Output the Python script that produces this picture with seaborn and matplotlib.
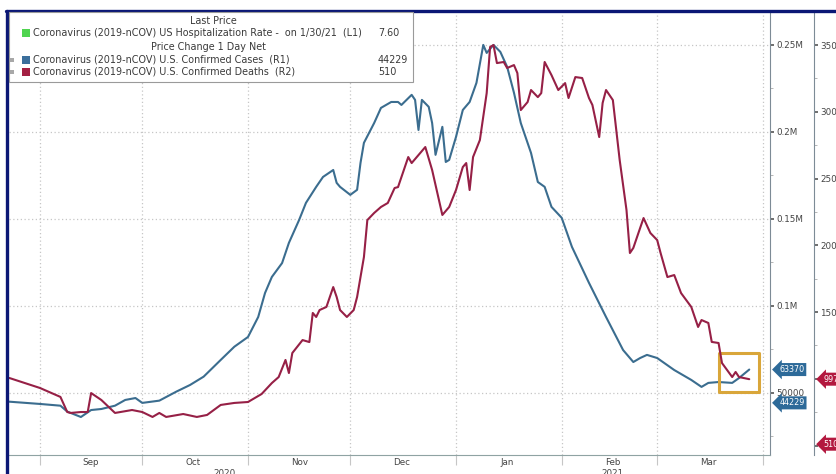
import matplotlib
matplotlib.use("Agg")
import matplotlib.pyplot as plt
import matplotlib.dates as mdates
import matplotlib.ticker as mticker
import matplotlib.transforms as mtransforms
from matplotlib.patches import Rectangle
from matplotlib.lines import Line2D
import pandas as pd
import seaborn as sns

sns.set_style("white")
plt.rcParams['font.family'] = ['DejaVu Sans']

# U.S. confirmed cases (R1)
case_dates = ["2020-08-23", "2020-09-01", "2020-09-07", "2020-09-09", "2020-09-13", "2020-09-16",
              "2020-09-19", "2020-09-23", "2020-09-26", "2020-09-29", "2020-10-01", "2020-10-06",
              "2020-10-11", "2020-10-15", "2020-10-19", "2020-10-24", "2020-10-28", "2020-11-01",
              "2020-11-04", "2020-11-06", "2020-11-08", "2020-11-11", "2020-11-13", "2020-11-16",
              "2020-11-18", "2020-11-21", "2020-11-23", "2020-11-26", "2020-11-27", "2020-11-28",
              "2020-12-01", "2020-12-03", "2020-12-04", "2020-12-05", "2020-12-08", "2020-12-10",
              "2020-12-13", "2020-12-15", "2020-12-16", "2020-12-19", "2020-12-20", "2020-12-21",
              "2020-12-22", "2020-12-24", "2020-12-25", "2020-12-26", "2020-12-28", "2020-12-29",
              "2020-12-30", "2021-01-01", "2021-01-03", "2021-01-05", "2021-01-07", "2021-01-09",
              "2021-01-10", "2021-01-12", "2021-01-14", "2021-01-16", "2021-01-18", "2021-01-20",
              "2021-01-23", "2021-01-25", "2021-01-27", "2021-01-29", "2021-02-01", "2021-02-04",
              "2021-02-09", "2021-02-14", "2021-02-19", "2021-02-22", "2021-02-24", "2021-02-26",
              "2021-03-01", "2021-03-06", "2021-03-11", "2021-03-14", "2021-03-16", "2021-03-19",
              "2021-03-23", "2021-03-25", "2021-03-28"]
cases = [44900, 43600, 42600, 39200, 36100, 40100,
         40700, 42600, 45900, 47000, 44200, 45500,
         50700, 54500, 59300, 68900, 76500, 82100,
         93600, 107400, 116600, 124600, 136200, 149400,
         159200, 168400, 174100, 178100, 170700, 168400,
         163800, 166700, 182200, 193700, 205100, 213800,
         217200, 217200, 215500, 221300, 218400, 201100,
         218400, 214400, 205100, 186800, 202900, 182700,
         183900, 197100, 212600, 217200, 228200, 250000,
         245400, 250000, 246000, 237400, 222500, 205100,
         187900, 171200, 168400, 156900, 150600, 133900,
         113200, 93600, 74600, 67700, 70000, 71800,
         70000, 63100, 57400, 53400, 55700, 56200,
         55700, 58500, 63370]

# U.S. confirmed deaths (R2)
death_dates = ["2020-08-23", "2020-09-01", "2020-09-07", "2020-09-09", "2020-09-10", "2020-09-13",
               "2020-09-15", "2020-09-16", "2020-09-19", "2020-09-23", "2020-09-28", "2020-10-01",
               "2020-10-04", "2020-10-06", "2020-10-08", "2020-10-13", "2020-10-17", "2020-10-20",
               "2020-10-24", "2020-10-28", "2020-11-01", "2020-11-05", "2020-11-08", "2020-11-10",
               "2020-11-12", "2020-11-13", "2020-11-14", "2020-11-17", "2020-11-19", "2020-11-20",
               "2020-11-21", "2020-11-22", "2020-11-24", "2020-11-26", "2020-11-27", "2020-11-28",
               "2020-11-30", "2020-12-02", "2020-12-03", "2020-12-05", "2020-12-06", "2020-12-08",
               "2020-12-10", "2020-12-12", "2020-12-14", "2020-12-15", "2020-12-16", "2020-12-18",
               "2020-12-19", "2020-12-23", "2020-12-25", "2020-12-27", "2020-12-28", "2020-12-30",
               "2021-01-01", "2021-01-03", "2021-01-04", "2021-01-05", "2021-01-06", "2021-01-08",
               "2021-01-10", "2021-01-11", "2021-01-12", "2021-01-13", "2021-01-15", "2021-01-16",
               "2021-01-18", "2021-01-19", "2021-01-20", "2021-01-22", "2021-01-23", "2021-01-25",
               "2021-01-26", "2021-01-27", "2021-01-29", "2021-01-31", "2021-02-02", "2021-02-03",
               "2021-02-05", "2021-02-07", "2021-02-09", "2021-02-10", "2021-02-12", "2021-02-13",
               "2021-02-14", "2021-02-16", "2021-02-18", "2021-02-20", "2021-02-21", "2021-02-22",
               "2021-02-25", "2021-02-27", "2021-03-01", "2021-03-02", "2021-03-04", "2021-03-06",
               "2021-03-08", "2021-03-11", "2021-03-13", "2021-03-14", "2021-03-16", "2021-03-17",
               "2021-03-19", "2021-03-20", "2021-03-23", "2021-03-24", "2021-03-25", "2021-03-28"]
deaths = [1006, 931, 864, 751, 744, 751,
          751, 893, 841, 744, 766, 751,
          714, 744, 714, 736, 714, 729,
          804, 819, 826, 886, 968, 1013,
          1141, 1043, 1193, 1290, 1275, 1493,
          1463, 1515, 1538, 1687, 1613, 1515,
          1463, 1515, 1613, 1912, 2189, 2242,
          2287, 2317, 2429, 2436, 2511, 2661,
          2616, 2736, 2564, 2339, 2227, 2287,
          2414, 2586, 2616, 2414, 2661, 2788,
          3140, 3485, 3500, 3365, 3373, 3328,
          3350, 3290, 3013, 3073, 3163, 3110,
          3140, 3373, 3275, 3163, 3215, 3103,
          3260, 3253, 3103, 3051, 2811, 3066,
          3163, 3088, 2639, 2264, 1942, 1980,
          2204, 2092, 2039, 1942, 1762, 1777,
          1642, 1538, 1388, 1440, 1418, 1276,
          1268, 1118, 1013, 1051, 1013, 997]

hosp_rate = "7.60"
cases_net = 44229
deaths_net = 510
cases_last = 63370
deaths_last = 997

blue = "#3b6d8f"
red = "#962046"
navy = "#0b1775"
grid_c = "#c6c6c6"

W, H = 837, 474
fig = plt.figure(figsize=(W / 100, H / 100), dpi=100)
ax = fig.add_axes([9 / W, 19 / H, 761 / W, 444 / H])

sns.lineplot(x=pd.to_datetime(case_dates), y=cases, ax=ax, color=blue, linewidth=1.5)
ax2 = ax.twinx()
sns.lineplot(x=pd.to_datetime(death_dates), y=deaths, ax=ax2, color=red, linewidth=1.5)

ax.set_xlim(pd.Timestamp("2020-08-22 22:00"), pd.Timestamp("2021-04-03 02:00"))
ax.set_ylim(14250, 269500)
ax2.set_ylim(429, 3755)
for a in (ax, ax2):
    a.set_xlabel("")
    a.set_ylabel("")

# spines
for s in ("left", "top"):
    ax.spines[s].set_visible(False)
    ax2.spines[s].set_visible(False)
ax2.spines["bottom"].set_visible(False)
ax.spines["bottom"].set_color("#8fa3a3")
ax.spines["right"].set_color("#7d8b96")
ax2.spines["right"].set_color("#7d8b96")
ax2.spines["right"].set_position(("outward", 44 * 0.72))

# y ticks (R1)
ax.yaxis.tick_right()
ax.yaxis.set_major_locator(mticker.MultipleLocator(50000))
ax.yaxis.set_minor_locator(mticker.MultipleLocator(25000))
ax.yaxis.set_major_formatter(mticker.FuncFormatter(
    lambda v, p: f"{v / 1e6:g}M" if v >= 100000 else f"{int(v)}"))
ax.tick_params(axis="y", which="major", right=True, left=False, length=3, width=1.2,
               color="#555555", labelsize=6.3, labelcolor="#444444", pad=1.5)
ax.tick_params(axis="y", which="minor", right=True, left=False, length=2, color="#aaaaaa")

# y ticks (R2)
ax2.yaxis.set_major_locator(mticker.MultipleLocator(500))
ax2.yaxis.set_minor_locator(mticker.MultipleLocator(250))
ax2.tick_params(axis="y", which="major", length=3, width=1.2, color="#555555",
                labelsize=6.3, labelcolor="#444444", pad=1.5)
ax2.tick_params(axis="y", which="minor", length=2, color="#aaaaaa")

# x ticks: month boundaries, labels mid-month
ax.xaxis.set_major_locator(mdates.MonthLocator())
ax.xaxis.set_major_formatter(mticker.NullFormatter())
ax.xaxis.set_minor_locator(mdates.MonthLocator(bymonthday=16))
ax.xaxis.set_minor_formatter(mdates.DateFormatter("%b"))
ax.tick_params(axis="x", which="major", bottom=True, length=7, color=grid_c)
ax.tick_params(axis="x", which="minor", bottom=True, length=0, labelsize=6.3,
               labelcolor="#444444", pad=2)

ax.grid(True, axis="both", which="major", color=grid_c, linestyle=(0, (1, 2)), linewidth=0.9)

# highlight box around latest readings
ax.add_patch(Rectangle((mdates.date2num(pd.Timestamp("2021-03-19")), 50500),
                       12, 22400, fill=False, ec="#d9a63a", lw=2.2, joinstyle="round", zorder=5))

# value tags on the right axes
def tag(axis, xfrac, value, text, color):
    tr = mtransforms.blended_transform_factory(axis.transAxes, axis.transData)
    axis.text(xfrac, value, text, transform=tr, ha="left", va="center", fontsize=5.8,
              color="white", clip_on=False, zorder=10,
              bbox=dict(boxstyle="larrow,pad=0.25", fc=color, ec="none"))

tag(ax, 1.012, cases_last, f"{cases_last}", "#2d6a99")
tag(ax, 1.012, cases_net, f"{cases_net}", "#2d6a99")
tag(ax2, 1.070, deaths_last, f"{deaths_last}", "#b3183f")
tag(ax2, 1.070, deaths_net, f"{deaths_net}", "#b3183f")

# year labels
fig.text(225 / W, 1 - 469 / H, "2020", ha="center", va="top", fontsize=6.3, color="#444444")
fig.text(612 / W, 1 - 469 / H, "2021", ha="center", va="top", fontsize=6.3, color="#444444")

# navy frame
fig.add_artist(Line2D([7 / W, 7 / W], [0, 1 - 11 / H], color=navy, lw=2.4))
fig.add_artist(Line2D([6 / W, 1], [1 - 11 / H, 1 - 11 / H], color=navy, lw=2.4))

# legend panel
fig.add_artist(Rectangle((9 / W, 1 - 82 / H), 404 / W, 70 / H, fc="white", ec="#9a9a9a",
                         lw=0.8, zorder=4))
fs = 6.9
tc = "#3a3a3a"
def ftxt(x, y, s, ha="left"):
    fig.text(x / W, 1 - y / H, s, ha=ha, va="center", fontsize=fs, color=tc, zorder=6)

def fsq(x, y, size, color):
    fig.add_artist(Rectangle((x / W, 1 - (y + size / 2) / H), size / W, size / H,
                             fc=color, ec="none", zorder=5))

ftxt(213, 21, "Last Price", ha="center")
fsq(22, 33, 8, "#4fd44f")
ftxt(33, 33, "Coronavirus (2019-nCOV) US Hospitalization Rate -  on 1/30/21  (L1)")
ftxt(378, 33, hosp_rate)
ftxt(208, 47, "Price Change 1 Day Net", ha="center")
fsq(10, 60, 4, "#a8a8a8")
fsq(22, 60, 8, "#3b6f9c")
ftxt(33, 60, "Coronavirus (2019-nCOV) U.S. Confirmed Cases  (R1)")
ftxt(378, 60, f"{cases_net}")
fsq(10, 72, 4, "#a8a8a8")
fsq(22, 72, 8, "#a32043")
ftxt(33, 72, "Coronavirus (2019-nCOV) U.S. Confirmed Deaths  (R2)")
ftxt(378, 72, f"{deaths_net}")

fig.savefig("out.png", dpi=100)
